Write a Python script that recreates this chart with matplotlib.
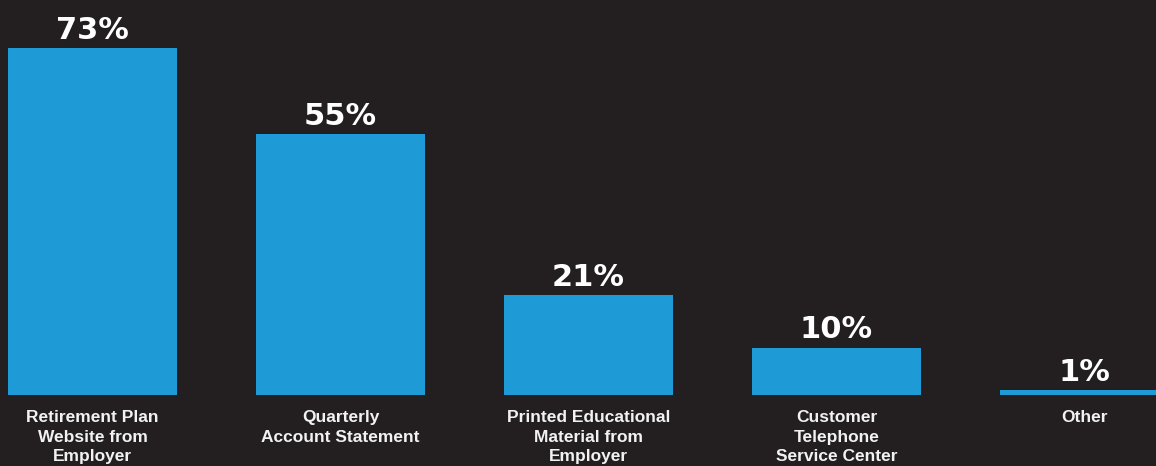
import matplotlib
matplotlib.use("Agg")
import matplotlib.pyplot as plt

categories = ["Retirement Plan\nWebsite from\nEmployer",
              "Quarterly\nAccount Statement",
              "Printed Educational\nMaterial from\nEmployer",
              "Customer\nTelephone\nService Center",
              "Other"]
values = [73, 55, 21, 10, 1]
value_labels = ["73%", "55%", "21%", "10%", "1%"]

BG = "#231f20"
BAR = "#1e9ad6"

fig = plt.figure(figsize=(11.56, 4.66), dpi=100, facecolor=BG)
ax = fig.add_axes([0, 0, 1, 1])
ax.set_facecolor(BG)

x = list(range(len(categories)))
ax.bar(x, values, width=169/248, color=BAR, linewidth=0)

px_per_unit = 4.75
ax.set_xlim(-92.5/248, (1156-92.5)/248)
ax.set_ylim(-71/px_per_unit, (466-71)/px_per_unit)

for xi, v, lab in zip(x, values, value_labels):
    ax.annotate(lab, (xi, v), xytext=(0, 9), textcoords="offset pixels",
                ha="center", va="baseline", color="white", fontsize=22,
                fontweight="bold", family="DejaVu Sans")

for xi, c in zip(x, categories):
    ax.annotate(c, (xi, 0), xytext=(0, -15), textcoords="offset pixels",
                ha="center", va="top", color="#f2f2f2", fontsize=12.5,
                fontweight="bold", family="Liberation Sans", linespacing=1.38)

ax.axis("off")
fig.savefig("out.png", dpi=100, facecolor=BG)
